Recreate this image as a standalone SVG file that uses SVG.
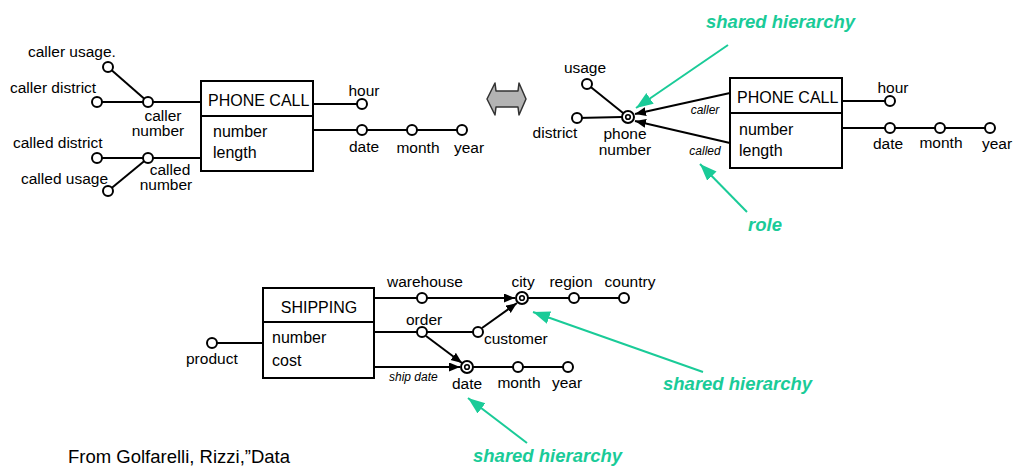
<svg xmlns="http://www.w3.org/2000/svg" width="1014" height="466" viewBox="0 0 1014 466">
<style>
text{font-family:"Liberation Sans",Arial,sans-serif;fill:#000}
.lb{font-size:15.5px}
.bx{font-size:16px}
.c{text-anchor:middle}
.it{font-size:12px;font-style:italic}
.gr{font-size:18.5px;font-weight:bold;font-style:italic;fill:#1ACB98}
.ln{stroke:#000;stroke-width:2;fill:none}
.box{stroke:#000;stroke-width:2;fill:#fff}
.nd{stroke:#000;stroke-width:2;fill:#fff}
.ga{stroke:#1ACB98;stroke-width:2;fill:none}
</style>
<defs>
<marker id="ah" markerUnits="userSpaceOnUse" markerWidth="12" markerHeight="10" refX="11" refY="4.5" orient="auto"><path d="M0,0 L11,4.5 L0,9 z" fill="#000"/></marker>
<marker id="gh" markerUnits="userSpaceOnUse" markerWidth="18" markerHeight="14" refX="17" refY="6.5" orient="auto"><path d="M0,0 L17,6.5 L0,13 z" fill="#1ACB98"/></marker>
</defs>

<g id="connectors">
<!-- left diagram -->
<line class="ln" x1="108" y1="67" x2="148" y2="102"/>
<line class="ln" x1="97" y1="102" x2="201" y2="102"/>
<line class="ln" x1="97" y1="158" x2="201" y2="158"/>
<line class="ln" x1="108" y1="191" x2="148" y2="158"/>
<line class="ln" x1="313" y1="104" x2="362" y2="104"/>
<line class="ln" x1="313" y1="130" x2="462" y2="130"/>
<!-- right diagram -->
<line class="ln" x1="587" y1="84" x2="628" y2="117"/>
<line class="ln" x1="577" y1="118" x2="622" y2="117"/>
<line class="ln" x1="730" y1="93" x2="635" y2="114" marker-end="url(#ah)"/>
<line class="ln" x1="730" y1="143" x2="635" y2="121" marker-end="url(#ah)"/>
<line class="ln" x1="842" y1="101" x2="890" y2="101"/>
<line class="ln" x1="842" y1="128" x2="990" y2="128"/>
<!-- bottom diagram -->
<line class="ln" x1="212" y1="343" x2="263" y2="343"/>
<line class="ln" x1="374" y1="298" x2="515" y2="298" marker-end="url(#ah)"/>
<line class="ln" x1="522" y1="298" x2="624" y2="298"/>
<line class="ln" x1="374" y1="332" x2="478" y2="332"/>
<line class="ln" x1="482" y1="328" x2="517" y2="303" marker-end="url(#ah)"/>
<line class="ln" x1="426" y1="336" x2="462" y2="363" marker-end="url(#ah)"/>
<line class="ln" x1="374" y1="367" x2="460" y2="367" marker-end="url(#ah)"/>
<line class="ln" x1="467" y1="367" x2="568" y2="367"/>
<!-- green annotation arrows -->
<line class="ga" x1="728" y1="45" x2="636" y2="108" marker-end="url(#gh)"/>
<line class="ga" x1="747" y1="212" x2="700" y2="164" marker-end="url(#gh)"/>
<line class="ga" x1="703" y1="372" x2="533" y2="312" marker-end="url(#gh)"/>
<line class="ga" x1="527" y1="443" x2="468" y2="398" marker-end="url(#gh)"/>
</g>

<!-- left diagram nodes -->
<g id="phonecall-left">
<rect class="box" x="201" y="81" width="112" height="90"/>
<line class="ln" x1="201" y1="116" x2="313" y2="116"/>
<text class="bx" x="208" y="106">PHONE CALL</text>
<text class="bx" x="213" y="137">number</text>
<text class="bx" x="213" y="158">length</text>
</g>
<g id="caller-usage"><circle class="nd" cx="108" cy="67" r="5"/><text class="lb" x="28" y="57">caller usage.</text></g>
<g id="caller-district"><circle class="nd" cx="97" cy="102" r="5"/><text class="lb" x="10" y="93">caller district</text></g>
<g id="caller-number"><circle class="nd" cx="148" cy="102" r="5"/><text class="lb c" x="163" y="121">caller</text><text class="lb c" x="158" y="136">number</text></g>
<g id="called-district"><circle class="nd" cx="97" cy="158" r="5"/><text class="lb" x="13" y="148">called district</text></g>
<g id="called-usage"><circle class="nd" cx="108" cy="191" r="5"/><text class="lb" x="21" y="184">called usage</text></g>
<g id="called-number"><circle class="nd" cx="148" cy="158" r="5"/><text class="lb c" x="170" y="175">called</text><text class="lb c" x="166" y="190">number</text></g>
<g id="hour-left"><circle class="nd" cx="362" cy="104" r="5"/><text class="lb c" x="364" y="96">hour</text></g>
<g id="date-left"><circle class="nd" cx="362" cy="130" r="5"/><text class="lb c" x="364" y="152">date</text></g>
<g id="month-left"><circle class="nd" cx="412" cy="130" r="5"/><text class="lb c" x="418" y="153">month</text></g>
<g id="year-left"><circle class="nd" cx="462" cy="130" r="5"/><text class="lb c" x="469" y="153">year</text></g>

<!-- double arrow -->
<g id="equiv">
<path d="M487,99 L495,83 L496,91 L518,91 L519,83 L526,99 L519,115 L518,107 L496,107 L495,115 Z" fill="#b3b3b3" stroke="#333" stroke-width="1.5" stroke-linejoin="round"/>
</g>

<!-- right diagram nodes -->
<g id="phonecall-right">
<rect class="box" x="730" y="78" width="112" height="90"/>
<line class="ln" x1="730" y1="113" x2="842" y2="113"/>
<text class="bx" x="737" y="103">PHONE CALL</text>
<text class="bx" x="739" y="135">number</text>
<text class="bx" x="739" y="156">length</text>
<text class="it" x="705" y="114" text-anchor="middle">caller</text>
<text class="it" x="705" y="155" text-anchor="middle">called</text>
</g>
<g id="usage"><circle class="nd" cx="587" cy="84" r="5"/><text class="lb c" x="585" y="73">usage</text></g>
<g id="district"><circle class="nd" cx="577" cy="118" r="5"/><text class="lb c" x="555" y="138">district</text></g>
<g id="phone-number"><circle class="nd" cx="628" cy="117" r="6"/><circle cx="628" cy="117" r="2.3" fill="none" stroke="#000" stroke-width="1.6"/><text class="lb c" x="625" y="139">phone</text><text class="lb c" x="625" y="155">number</text></g>
<g id="hour-right"><circle class="nd" cx="890" cy="101" r="5"/><text class="lb c" x="893" y="93">hour</text></g>
<g id="date-right"><circle class="nd" cx="890" cy="128" r="5"/><text class="lb c" x="888" y="149">date</text></g>
<g id="month-right"><circle class="nd" cx="940" cy="128" r="5"/><text class="lb c" x="941" y="148">month</text></g>
<g id="year-right"><circle class="nd" cx="990" cy="128" r="5"/><text class="lb c" x="997" y="149">year</text></g>

<!-- bottom diagram nodes -->
<g id="shipping">
<rect class="box" x="263" y="288" width="111" height="90"/>
<line class="ln" x1="263" y1="322" x2="374" y2="322"/>
<text class="bx c" x="319" y="313">SHIPPING</text>
<text class="bx" x="272" y="343">number</text>
<text class="bx" x="272" y="366">cost</text>
<text class="it" x="389" y="381">ship date</text>
</g>
<g id="product"><circle class="nd" cx="212" cy="343" r="5"/><text class="lb" x="186" y="364">product</text></g>
<g id="warehouse"><circle class="nd" cx="422" cy="298" r="5"/><text class="lb" x="387" y="287">warehouse</text></g>
<g id="city"><circle class="nd" cx="522" cy="298" r="6"/><circle cx="522" cy="298" r="2.3" fill="none" stroke="#000" stroke-width="1.6"/><text class="lb c" x="523" y="287">city</text></g>
<g id="region"><circle class="nd" cx="574" cy="298" r="5"/><text class="lb c" x="571" y="287">region</text></g>
<g id="country"><circle class="nd" cx="624" cy="298" r="5"/><text class="lb c" x="630" y="287">country</text></g>
<g id="order"><circle class="nd" cx="422" cy="332" r="5"/><text class="lb" x="406" y="325">order</text></g>
<g id="customer"><circle class="nd" cx="478" cy="332" r="5"/><text class="lb" x="484" y="344">customer</text></g>
<g id="date-bottom"><circle class="nd" cx="467" cy="367" r="6"/><circle cx="467" cy="367" r="2.3" fill="none" stroke="#000" stroke-width="1.6"/><text class="lb c" x="467" y="389">date</text></g>
<g id="month-bottom"><circle class="nd" cx="518" cy="367" r="5"/><text class="lb c" x="519" y="388">month</text></g>
<g id="year-bottom"><circle class="nd" cx="568" cy="367" r="5"/><text class="lb c" x="567" y="388">year</text></g>

<!-- annotations -->
<g id="annotations">
<text class="gr" x="706" y="28">shared hierarchy</text>
<text class="gr" x="748" y="231">role</text>
<text class="gr" x="663" y="390">shared hierarchy</text>
<text class="gr" x="473" y="462">shared hierarchy</text>
<text x="68" y="463" style="font-size:18.5px">From Golfarelli, Rizzi,”Data</text>
</g>
</svg>
